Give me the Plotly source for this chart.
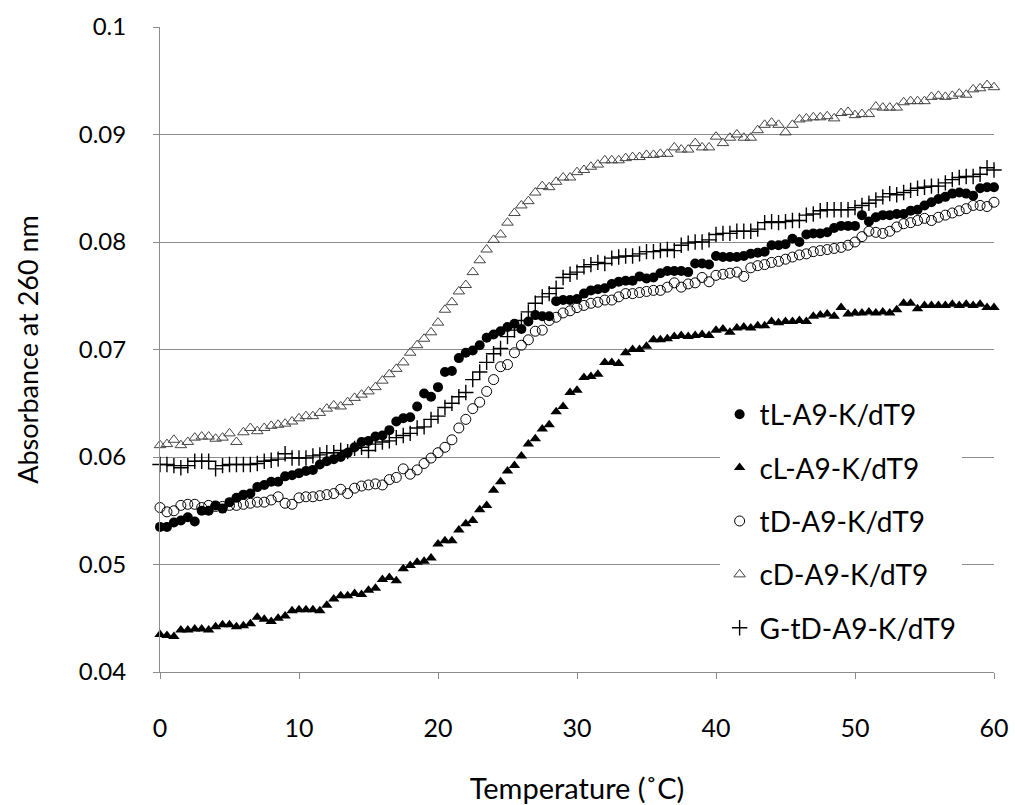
import plotly.graph_objects as go

temps = [i * 0.5 for i in range(121)]

tL = [0.0535, 0.0535, 0.0539, 0.0541, 0.0544, 0.0540, 0.0550, 0.0550, 0.0555, 0.0552,
      0.0558, 0.0562, 0.0565, 0.0566, 0.0572, 0.0574, 0.0577, 0.0577, 0.0582, 0.0583,
      0.0585, 0.0587, 0.0588, 0.0593, 0.0596, 0.0598, 0.0600, 0.0604, 0.0609, 0.0614,
      0.0615, 0.0619, 0.0620, 0.0625, 0.0633, 0.0636, 0.0637, 0.0647, 0.0659, 0.0656,
      0.0665, 0.0679, 0.0680, 0.0692, 0.0697, 0.0699, 0.0704, 0.0711, 0.0714, 0.0717,
      0.0721, 0.0724, 0.0719, 0.0726, 0.0732, 0.0731, 0.0731, 0.0745, 0.0746, 0.0746,
      0.0747, 0.0752, 0.0755, 0.0756, 0.0757, 0.0761, 0.0763, 0.0764, 0.0764, 0.0768,
      0.0766, 0.0767, 0.0771, 0.0773, 0.0773, 0.0773, 0.0772, 0.0780, 0.0780, 0.0779,
      0.0787, 0.0786, 0.0786, 0.0786, 0.0787, 0.0789, 0.0790, 0.0791, 0.0797, 0.0797,
      0.0798, 0.0803, 0.0800, 0.0807, 0.0808, 0.0808, 0.0809, 0.0813, 0.0815, 0.0815,
      0.0815, 0.0825, 0.0819, 0.0823, 0.0825, 0.0825, 0.0826, 0.0826, 0.0829, 0.0830,
      0.0834, 0.0837, 0.0840, 0.0842, 0.0845, 0.0846, 0.0845, 0.0843, 0.0850, 0.0851,
      0.0851]

cL = [0.0435, 0.0434, 0.0433, 0.0439, 0.0439, 0.0440, 0.0440, 0.0439, 0.0442, 0.0444,
      0.0444, 0.0442, 0.0443, 0.0445, 0.0451, 0.0449, 0.0447, 0.0450, 0.0452, 0.0457,
      0.0458, 0.0458, 0.0458, 0.0457, 0.0462, 0.0468, 0.0471, 0.0471, 0.0473, 0.0472,
      0.0476, 0.0478, 0.0486, 0.0488, 0.0485, 0.0496, 0.0499, 0.0502, 0.0503, 0.0506,
      0.0519, 0.0522, 0.0522, 0.0532, 0.0538, 0.0541, 0.0551, 0.0555, 0.0569, 0.0577,
      0.0587, 0.0592, 0.0601, 0.0612, 0.0617, 0.0626, 0.0630, 0.0642, 0.0647, 0.0660,
      0.0662, 0.0674, 0.0675, 0.0677, 0.0688, 0.0688, 0.0687, 0.0697, 0.0700, 0.0700,
      0.0703, 0.0709, 0.0709, 0.0710, 0.0712, 0.0713, 0.0712, 0.0713, 0.0714, 0.0713,
      0.0718, 0.0719, 0.0716, 0.0720, 0.0721, 0.0720, 0.0722, 0.0722, 0.0726, 0.0725,
      0.0726, 0.0726, 0.0727, 0.0726, 0.0731, 0.0732, 0.0733, 0.0731, 0.0739, 0.0733,
      0.0734, 0.0734, 0.0735, 0.0734, 0.0735, 0.0734, 0.0737, 0.0743, 0.0743, 0.0738,
      0.0741, 0.0741, 0.0741, 0.0741, 0.0742, 0.0741, 0.0742, 0.0741, 0.0742, 0.0739,
      0.0739]

tD = [0.0553, 0.0549, 0.0550, 0.0555, 0.0556, 0.0556, 0.0553, 0.0555, 0.0554, 0.0554,
      0.0555, 0.0555, 0.0556, 0.0557, 0.0558, 0.0558, 0.0560, 0.0563, 0.0557, 0.0556,
      0.0562, 0.0563, 0.0563, 0.0564, 0.0565, 0.0566, 0.0570, 0.0566, 0.0571, 0.0573,
      0.0574, 0.0575, 0.0574, 0.0579, 0.0581, 0.0589, 0.0584, 0.0588, 0.0594, 0.0599,
      0.0604, 0.0609, 0.0616, 0.0627, 0.0635, 0.0645, 0.0651, 0.0661, 0.0672, 0.0684,
      0.0686, 0.0697, 0.0704, 0.0709, 0.0717, 0.0718, 0.0727, 0.0730, 0.0734, 0.0736,
      0.0739, 0.0741, 0.0743, 0.0744, 0.0746, 0.0746, 0.0749, 0.0752, 0.0752, 0.0753,
      0.0754, 0.0755, 0.0755, 0.0758, 0.0762, 0.0758, 0.0761, 0.0762, 0.0767, 0.0763,
      0.0769, 0.0770, 0.0771, 0.0772, 0.0768, 0.0776, 0.0778, 0.0779, 0.0781, 0.0782,
      0.0784, 0.0786, 0.0788, 0.0789, 0.0791, 0.0792, 0.0793, 0.0794, 0.0795, 0.0797,
      0.0800, 0.0805, 0.0810, 0.0809, 0.0808, 0.0810, 0.0814, 0.0817, 0.0818, 0.0820,
      0.0822, 0.0820, 0.0823, 0.0825, 0.0827, 0.0829, 0.0831, 0.0834, 0.0834, 0.0833,
      0.0837]

cD = [0.0611, 0.0612, 0.0616, 0.0611, 0.0614, 0.0618, 0.0619, 0.0619, 0.0617, 0.0618,
      0.0622, 0.0614, 0.0623, 0.0627, 0.0624, 0.0627, 0.0629, 0.0630, 0.0631, 0.0633,
      0.0636, 0.0638, 0.0638, 0.0641, 0.0645, 0.0648, 0.0647, 0.0651, 0.0655, 0.0658,
      0.0661, 0.0665, 0.0671, 0.0677, 0.0682, 0.0688, 0.0697, 0.0704, 0.0710, 0.0716,
      0.0725, 0.0737, 0.0744, 0.0754, 0.0760, 0.0772, 0.0783, 0.0793, 0.0802, 0.0807,
      0.0818, 0.0827, 0.0834, 0.0838, 0.0846, 0.0852, 0.0851, 0.0856, 0.0860, 0.0860,
      0.0865, 0.0867, 0.0870, 0.0872, 0.0876, 0.0876, 0.0876, 0.0878, 0.0879, 0.0879,
      0.0881, 0.0881, 0.0882, 0.0882, 0.0888, 0.0886, 0.0886, 0.0892, 0.0888, 0.0888,
      0.0898, 0.0892, 0.0897, 0.0900, 0.0897, 0.0897, 0.0904, 0.0909, 0.0911, 0.0909,
      0.0902, 0.0909, 0.0914, 0.0915, 0.0916, 0.0916, 0.0917, 0.0915, 0.0920, 0.0921,
      0.0918, 0.0919, 0.0919, 0.0926, 0.0925, 0.0925, 0.0925, 0.0930, 0.0931, 0.0931,
      0.0931, 0.0935, 0.0936, 0.0935, 0.0936, 0.0938, 0.0937, 0.0942, 0.0943, 0.0946,
      0.0944]

GtD = [0.0593, 0.0593, 0.0592, 0.0590, 0.0592, 0.0596, 0.0596, 0.0596, 0.0589, 0.0592,
       0.0593, 0.0593, 0.0593, 0.0593, 0.0594, 0.0596, 0.0597, 0.0598, 0.0603, 0.0599,
       0.0599, 0.0599, 0.0601, 0.0602, 0.0604, 0.0604, 0.0606, 0.0605, 0.0608, 0.0609,
       0.0606, 0.0612, 0.0614, 0.0615, 0.0618, 0.0620, 0.0622, 0.0627, 0.0628, 0.0635,
       0.0638, 0.0646, 0.0650, 0.0656, 0.0660, 0.0672, 0.0679, 0.0688, 0.0696, 0.0701,
       0.0712, 0.0718, 0.0727, 0.0735, 0.0743, 0.0749, 0.0752, 0.0757, 0.0767, 0.0770,
       0.0772, 0.0777, 0.0779, 0.0781, 0.0780, 0.0785, 0.0786, 0.0787, 0.0787, 0.0789,
       0.0791, 0.0791, 0.0792, 0.0793, 0.0792, 0.0797, 0.0799, 0.0800, 0.0800, 0.0802,
       0.0807, 0.0808, 0.0808, 0.0810, 0.0810, 0.0810, 0.0812, 0.0818, 0.0819, 0.0818,
       0.0819, 0.0820, 0.0820, 0.0825, 0.0826, 0.0829, 0.0830, 0.0830, 0.0830, 0.0830,
       0.0832, 0.0834, 0.0836, 0.0839, 0.0842, 0.0845, 0.0844, 0.0846, 0.0848, 0.0850,
       0.0851, 0.0852, 0.0852, 0.0855, 0.0858, 0.0860, 0.0861, 0.0861, 0.0863, 0.0869,
       0.0867]

series_names = ["tL-A9-K/dT9", "cL-A9-K/dT9", "tD-A9-K/dT9", "cD-A9-K/dT9", "G-tD-A9-K/dT9"]
series_values = [tL, cL, tD, cD, GtD]

y_ticks = [0.04, 0.05, 0.06, 0.07, 0.08, 0.09, 0.1]
y_ticktext = ["0.04", "0.05", "0.06", "0.07", "0.08", "0.09", "0.1"]
x_ticks = [0, 10, 20, 30, 40, 50, 60]

styles = [
    dict(symbol="circle", size=10, color="black", line=dict(width=0)),
    dict(symbol="triangle-up", size=10, color="black", line=dict(width=0)),
    dict(symbol="circle-open", size=10, color="black", line=dict(width=1)),
    dict(symbol="triangle-up-open", size=10, color="#454545", line=dict(width=1)),
    dict(symbol="cross-thin-open", size=11, color="black", line=dict(width=1.4, color="black")),
]

FONT = "Lato, 'Open Sans', sans-serif"

fig = go.Figure()
for i, (name, vals) in enumerate(zip(series_names, series_values)):
    fig.add_trace(go.Scatter(
        x=temps, y=vals, mode="markers", name=name,
        marker=styles[i], legendgroup=f"g{i}", cliponaxis=False,
    ))

gridc = "#8c8c8c"
fig.update_layout(
    width=1015, height=805,
    margin=dict(l=160, r=21, t=27, b=133, autoexpand=False),
    paper_bgcolor="white", plot_bgcolor="white",
    font=dict(family=FONT, color="black", size=25),
    showlegend=True,
    legend=dict(
        x=0.671, y=0.438, xanchor="left", yanchor="top",
        bgcolor="white", borderwidth=0,
        font=dict(family=FONT, size=28, color="black"),
        tracegroupgap=14, itemsizing="trace",
    ),
    xaxis=dict(
        range=[0, 60], tickvals=x_ticks, showgrid=False, zeroline=False,
        automargin=False,
        showline=True, linecolor=gridc, linewidth=1,
        ticks="outside", ticklen=6, tickcolor=gridc,
        ticklabelstandoff=28,
        tickfont=dict(family=FONT, size=25),
        title=dict(text="Temperature (˚C)", font=dict(family=FONT, size=29), standoff=38),
    ),
    yaxis=dict(
        range=[0.04, 0.1], tickvals=y_ticks, ticktext=y_ticktext,
        automargin=False,
        showgrid=True, gridcolor=gridc, gridwidth=1, zeroline=False,
        showline=True, linecolor=gridc, linewidth=1,
        ticks="outside", ticklen=6, tickcolor=gridc,
        ticklabelstandoff=22,
        tickfont=dict(family=FONT, size=24),
        title=dict(text="Absorbance at 260 nm", font=dict(family=FONT, size=27), standoff=32),
    ),
)

fig.write_html("out.html", config={"displayModeBar": False},
               post_script="document.body.style.margin='0px';")
